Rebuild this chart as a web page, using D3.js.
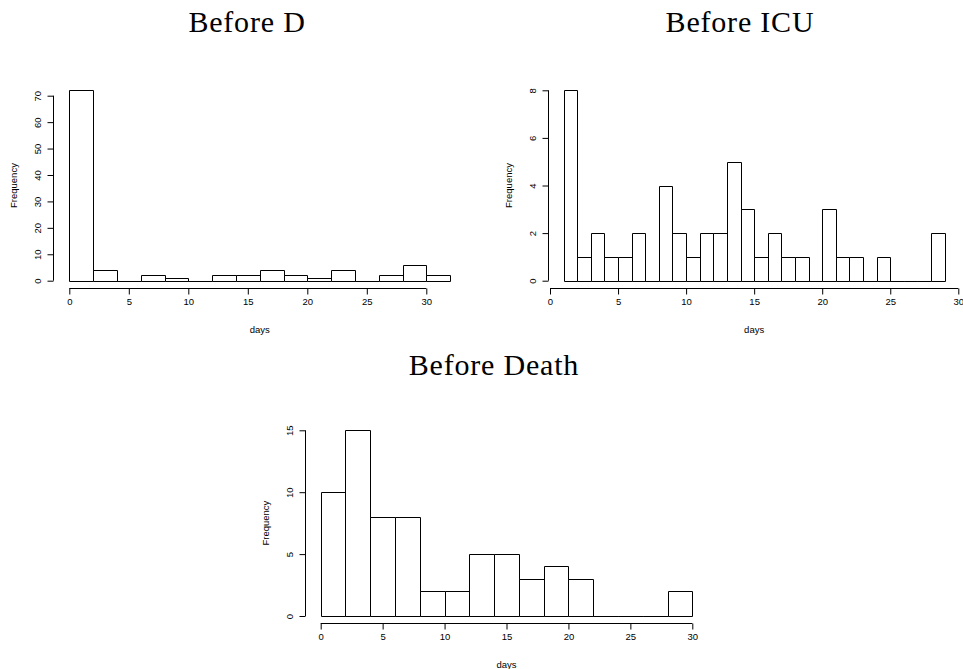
<!DOCTYPE html>
<html>
<head>
<meta charset="utf-8">
<script src="https://cdn.jsdelivr.net/npm/d3@7"></script>
<style>
  body { margin: 0; background: #fff; }
  text { fill: #000; }
  .title { font-family: "Liberation Serif", serif; font-size: 30px; letter-spacing: 0.8px; }
  .lab, .tick text { font-family: "Liberation Sans", Arial, sans-serif; font-size: 9.5px; }
</style>
</head>
<body>
<div id="chart"></div>
<script>

// bin counts for each histogram
var beforeDBreaks = [0, 2, 4, 6, 8, 10, 12, 14, 16, 18, 20, 22, 24, 26, 28, 30, 32];
var beforeDCounts = [72, 4, 0, 2, 1, 0, 2, 2, 4, 2, 1, 4, 0, 2, 6, 2];

var beforeICUBreaks = [1, 2, 3, 4, 5, 6, 7, 8, 9, 10, 11, 12, 13, 14, 15, 16, 17, 18, 19, 20, 21, 22, 23, 24, 25, 26, 27, 28, 29];
var beforeICUCounts = [8, 1, 2, 1, 1, 2, 0, 4, 2, 1, 2, 2, 5, 3, 1, 2, 1, 1, 0, 3, 1, 1, 0, 1, 0, 0, 0, 2];

var beforeDeathBreaks = [0, 2, 4, 6, 8, 10, 12, 14, 16, 18, 20, 22, 24, 26, 28, 30];
var beforeDeathCounts = [10, 15, 8, 8, 2, 2, 5, 5, 3, 4, 3, 0, 0, 0, 2];

// tick labels
var xTicks = [0, 5, 10, 15, 20, 25, 30];
var beforeDYTicks = [0, 10, 20, 30, 40, 50, 60, 70];
var beforeICUYTicks = [0, 2, 4, 6, 8];
var beforeDeathYTicks = [0, 5, 10, 15];

var titles = ["Before D", "Before ICU", "Before Death"];

// where each panel sits on the page
var panels = [
  { title: titles[0], breaks: beforeDBreaks, counts: beforeDCounts, yTicks: beforeDYTicks,
    x0: 69.3, x30: 426.3, yBase: 280.7, yTop: 95.7, yMax: 70, xMid: 16, yMid: 36,
    axisY: 288.5, axisX: 53.5, titleX: 247, titleY: 31.5 },
  { title: titles[1], breaks: beforeICUBreaks, counts: beforeICUCounts, yTicks: beforeICUYTicks,
    x0: 550, x30: 958.3, yBase: 280.7, yTop: 90.3, yMax: 8, xMid: 15, yMid: 4,
    axisY: 288.5, axisX: 548.5, titleX: 740, titleY: 31.5 },
  { title: titles[2], breaks: beforeDeathBreaks, counts: beforeDeathCounts, yTicks: beforeDeathYTicks,
    x0: 320.7, x30: 692.3, yBase: 616, yTop: 430.3, yMax: 15, xMid: 15, yMid: 7.5,
    axisY: 623.5, axisX: 305.5, titleX: 494, titleY: 375 }
];

var width = 963,
    height = 669;

var svg = d3.select("#chart")
    .append("svg")
    .attr("width", width)
    .attr("height", height);

panels.forEach(function(p) {
  drawHist(svg, p);
});

function drawHist(svg, p) {

  var xScale = d3.scaleLinear()
      .domain([0, 30])
      .range([p.x0, p.x30]);

  var yScale = d3.scaleLinear()
      .domain([0, p.yMax])
      .range([p.yBase, p.yTop]);

  var g = svg.append("g");

  // the bars, as closed paths so empty bins still show a flat line
  var bins = p.counts.map(function(c, i) {
    return { x0: p.breaks[i], x1: p.breaks[i + 1], n: c };
  });

  g.selectAll("path.bar")
    .data(bins)
    .enter()
    .append("path")
    .attr("class", "bar")
    .attr("d", function(d) {
      var l = Math.round(xScale(d.x0)) + 0.5,
          r = Math.round(xScale(d.x1)) + 0.5,
          b = Math.round(yScale(0)) + 0.5,
          t = Math.round(yScale(d.n)) + 0.5;
      return "M" + l + "," + b + "V" + t + "H" + r + "V" + b + "Z";
    })
    .style("fill", "#fff")
    .style("stroke", "#000")
    .style("stroke-width", 1);

  // x axis
  var xAxis = d3.axisBottom(xScale)
      .tickValues(xTicks)
      .tickSize(6)
      .tickPadding(4)
      .tickSizeOuter(0);

  var gX = g.append("g")
      .attr("transform", "translate(0," + p.axisY + ")")
      .call(xAxis);
  gX.select(".domain").attr("d", "M" + xScale(0) + ",0H" + xScale(30));

  // y axis
  var yAxis = d3.axisLeft(yScale)
      .tickValues(p.yTicks)
      .tickSize(6)
      .tickSizeOuter(0);

  var gY = g.append("g")
      .attr("transform", "translate(" + p.axisX + ",0)")
      .call(yAxis);
  gY.select(".domain").attr("d", "M0," + yScale(0) + "V" + yScale(p.yMax));
  gY.selectAll(".tick text")
      .attr("x", null)
      .attr("dy", null)
      .attr("text-anchor", "middle")
      .attr("transform", "translate(-13,0) rotate(-90)");

  // axis titles
  g.append("text")
      .attr("class", "lab")
      .attr("x", xScale(p.xMid))
      .attr("y", p.axisY + 44)
      .attr("text-anchor", "middle")
      .text("days");

  g.append("text")
      .attr("class", "lab")
      .attr("text-anchor", "middle")
      .attr("transform", "translate(" + (p.axisX - 37) + "," + yScale(p.yMid) + ") rotate(-90)")
      .text("Frequency");

  // title
  g.append("text")
      .attr("class", "title")
      .attr("x", p.titleX)
      .attr("y", p.titleY)
      .attr("text-anchor", "middle")
      .text(p.title);
}

</script>
</body>
</html>
